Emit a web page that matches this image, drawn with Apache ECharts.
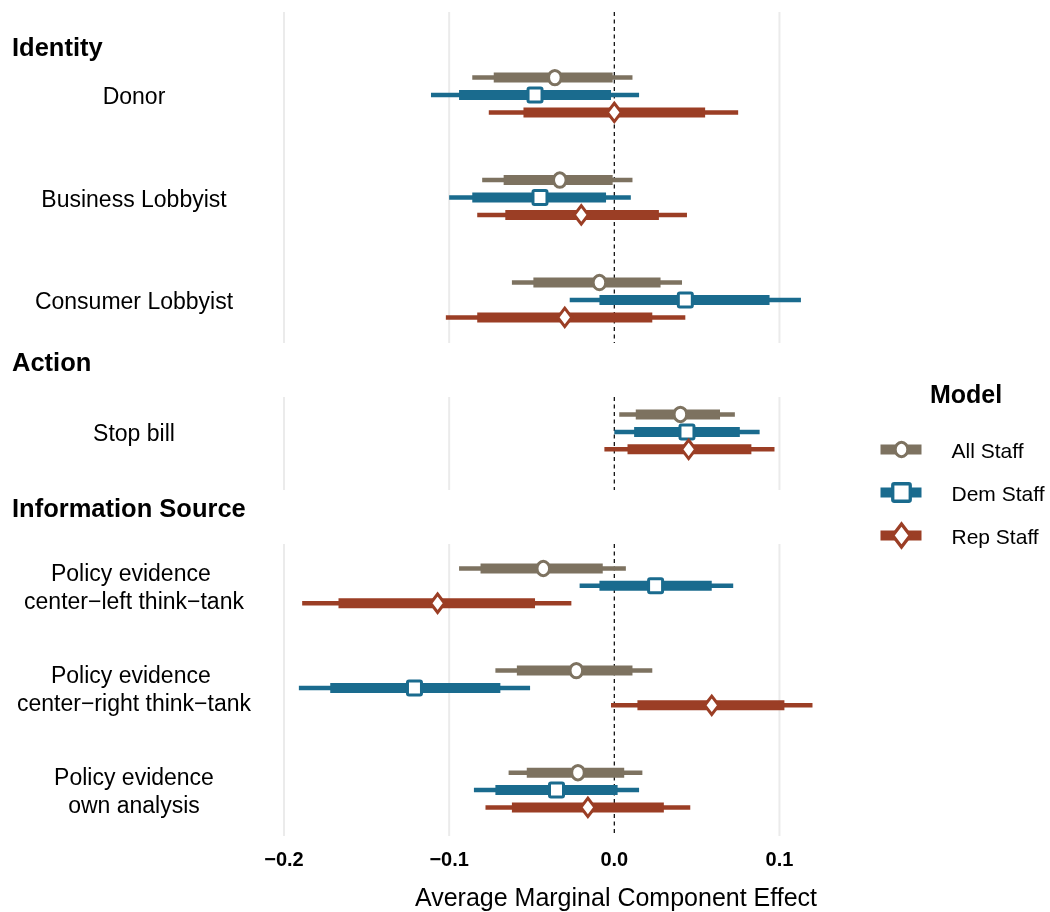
<!DOCTYPE html>
<html>
<head>
<meta charset="utf-8">
<script src="https://cdn.jsdelivr.net/npm/echarts@6/dist/echarts.min.js"></script>
<style>
  html, body { margin: 0; padding: 0; background: #ffffff; }
  #chart { width: 1050px; height: 912px; }
</style>
</head>
<body>
<div id="chart"></div>
<script>
// ---- Data -------------------------------------------------------------
const groupNames = ['Identity', 'Action', 'Information Source'];
const terms = [
  'Donor',
  'Business Lobbyist',
  'Consumer Lobbyist',
  'Stop bill',
  'Policy evidence \ncenter\u2212left think\u2212tank',
  'Policy evidence \ncenter\u2212right think\u2212tank',
  'Policy evidence\nown analysis'
];
const termGroup = [0, 0, 0, 1, 2, 2, 2];
const tickValues = [-0.2, -0.1, 0.0, 0.1];
const modelNames = ['All Staff', 'Dem Staff', 'Rep Staff'];

// All Staff: point estimate, 95% interval, 90% interval
const allEst  = [-0.036, -0.033, -0.009, 0.040, -0.043, -0.023, -0.022];
const allLo95 = [-0.086, -0.080, -0.062, 0.003, -0.094, -0.072, -0.064];
const allHi95 = [ 0.011,  0.011,  0.041, 0.073,  0.007,  0.023,  0.017];
const allLo90 = [-0.073, -0.067, -0.049, 0.013, -0.081, -0.059, -0.053];
const allHi90 = [-0.001, -0.001,  0.028, 0.064, -0.007,  0.011,  0.006];

// Dem Staff
const demEst  = [-0.048, -0.045,  0.043, 0.044,  0.025, -0.121, -0.035];
const demLo95 = [-0.111, -0.100, -0.027, 0.000, -0.021, -0.191, -0.085];
const demHi95 = [ 0.015,  0.010,  0.113, 0.088,  0.072, -0.051,  0.015];
const demLo90 = [-0.094, -0.086, -0.009, 0.012, -0.009, -0.172, -0.072];
const demHi90 = [-0.002, -0.005,  0.094, 0.076,  0.059, -0.069,  0.002];

// Rep Staff
const repEst  = [ 0.000, -0.020, -0.030,  0.045, -0.107,  0.059, -0.016];
const repLo95 = [-0.076, -0.083, -0.102, -0.006, -0.189, -0.002, -0.078];
const repHi95 = [ 0.075,  0.044,  0.043,  0.097, -0.026,  0.120,  0.046];
const repLo90 = [-0.055, -0.066, -0.083,  0.008, -0.167,  0.014, -0.062];
const repHi90 = [ 0.055,  0.027,  0.023,  0.083, -0.048,  0.103,  0.030];

// ---- Styling ------------------------------------------------------------
const FONT = '"Liberation Sans", Arial, Helvetica, sans-serif';
const modelColors = ['#7d7260', '#1a6b8e', '#9b3e25'];
const modelShapes = ['circle', 'square', 'diamond'];
const legendScale = { circle: 1.0, square: 1.25, diamond: 1.25 };
const modelStats = [
  [allEst, allLo95, allHi95, allLo90, allHi90],
  [demEst, demLo95, demHi95, demLo90, demHi90],
  [repEst, repLo95, repHi95, repLo90, repHi90]
];
const dodge = 0.17;               // vertical offset between models, in row units

// panel frames (pixels) and row ranges (row units)
const panels = [
  { top: 12,  height: 331, min: -0.81, max: 2.42 },
  { top: 397, height: 93,  min: -0.34, max: 0.566 },
  { top: 544, height: 292, min: -0.41, max: 2.45 }
];
const plotLeft = 284, plotWidth = 545;
const xMin = -0.2, xMax = 0.13;

function fmtTick(v) {
  const s = Math.abs(v).toFixed(1);
  return v < -1e-9 ? '\u2212' + s : s;
}

function marker(kind, cx, cy, color, scale) {
  const k = scale || 1;
  const base = { stroke: color, fill: '#ffffff', lineWidth: 3 * Math.min(k, 1.1) };
  if (kind === 'circle') {
    return { type: 'ellipse', shape: { cx: cx, cy: cy, rx: 6.3 * k, ry: 7.2 * k }, style: base };
  }
  if (kind === 'square') {
    const h = 7 * k;
    return { type: 'rect', shape: { x: cx - h, y: cy - h, width: 2 * h, height: 2 * h, r: 1.5 }, style: base };
  }
  const hw = 7 * k, hh = 9.2 * k;
  return {
    type: 'polygon',
    shape: { points: [[cx, cy - hh], [cx + hw, cy], [cx, cy + hh], [cx - hw, cy]] },
    style: Object.assign({ lineJoin: 'miter' }, base)
  };
}

function intervalRenderer(m) {
  const color = modelColors[m];
  const off = (m - 1) * dodge;
  return function (params, api) {
    const y = api.value(0) + off;
    const c = api.coord([api.value(1), y]);
    const a95 = api.coord([api.value(2), y]);
    const b95 = api.coord([api.value(3), y]);
    const a90 = api.coord([api.value(4), y]);
    const b90 = api.coord([api.value(5), y]);
    return {
      type: 'group',
      children: [
        { type: 'line', shape: { x1: a95[0], y1: a95[1], x2: b95[0], y2: b95[1] },
          style: { stroke: color, lineWidth: 4.5, lineCap: 'butt' } },
        { type: 'line', shape: { x1: a90[0], y1: a90[1], x2: b90[0], y2: b90[1] },
          style: { stroke: color, lineWidth: 10, lineCap: 'butt' } },
        marker(modelShapes[m], c[0], c[1], color, 1)
      ]
    };
  };
}

function refLineRenderer(params, api) {
  const v = api.value(0);
  const cs = params.coordSys;
  const x = api.coord([v, 0])[0];
  const isZero = Math.abs(v) < 1e-9;
  return {
    type: 'line',
    shape: { x1: x, y1: cs.y, x2: x, y2: cs.y + cs.height },
    style: isZero
      ? { stroke: '#000000', lineWidth: 1.2, lineDash: [4, 3.5] }
      : { stroke: '#ebebeb', lineWidth: 2 }
  };
}

// row labels, centred in the margin left of each panel
function rowLabelRenderer(labels) {
  return function (params, api) {
    const cs = params.coordSys;
    const y = api.coord([0, api.value(1)])[1];
    return {
      type: 'text', x: cs.x - 150, y: y + 3,
      style: { text: labels[params.dataIndex], font: '23px ' + FONT, lineHeight: 28,
               fill: '#000000', align: 'center', verticalAlign: 'middle' }
    };
  };
}

// ---- Build grids, axes and series -------------------------------------
const grids = [], xAxes = [], yAxes = [], series = [];

panels.forEach(function (p, g) {
  const idx = [];
  termGroup.forEach(function (tg, i) { if (tg === g) idx.push(i); });
  const rowLabels = idx.map(function (i) { return terms[i]; });
  const isLast = g === panels.length - 1;

  grids.push({ left: plotLeft, width: plotWidth, top: p.top, height: p.height });

  xAxes.push({
    type: 'value', gridIndex: g, min: xMin, max: xMax,
    axisLine: { show: false }, axisTick: { show: false }, splitLine: { show: false },
    axisLabel: {
      show: isLast,
      customValues: tickValues,
      formatter: fmtTick,
      fontFamily: FONT, fontSize: 20, fontWeight: 'bold', color: '#000000', margin: 14
    }
  });

  yAxes.push({
    type: 'value', gridIndex: g, inverse: true, min: p.min, max: p.max,
    axisLine: { show: false }, axisTick: { show: false }, splitLine: { show: false },
    axisLabel: { show: false }
  });

  series.push({
    type: 'custom', xAxisIndex: g, yAxisIndex: g, z: 1, silent: true,
    data: tickValues.map(function (v) { return [v, 0]; }),
    encode: { x: 0, y: 1 },
    renderItem: refLineRenderer
  });

  series.push({
    type: 'custom', xAxisIndex: g, yAxisIndex: g, z: 1, silent: true, clip: false,
    data: rowLabels.map(function (_, r) { return [0, r]; }),
    encode: { x: 0, y: 1 },
    renderItem: rowLabelRenderer(rowLabels)
  });

  modelStats.forEach(function (st, m) {
    series.push({
      type: 'custom', name: modelNames[m], xAxisIndex: g, yAxisIndex: g, z: 2 + m,
      data: idx.map(function (i, r) {
        return [r, st[0][i], st[1][i], st[2][i], st[3][i], st[4][i]];
      }),
      encode: { y: 0, x: [1, 2, 3, 4, 5] },
      renderItem: intervalRenderer(m)
    });
  });
});

// ---- Facet headings, axis title and legend -----------------------------
const headingY = [49, 364, 510];
const graphics = groupNames.map(function (name, g) {
  return {
    type: 'text', x: 12, y: headingY[g],
    style: { text: name, font: 'bold 25.5px ' + FONT, fill: '#000000', verticalAlign: 'middle', align: 'left' }
  };
});

graphics.push({
  type: 'text', x: 616, y: 899,
  style: { text: 'Average Marginal Component Effect', font: '25px ' + FONT, fill: '#000000',
           align: 'center', verticalAlign: 'middle' }
});

graphics.push({
  type: 'text', x: 930, y: 396,
  style: { text: 'Model', font: 'bold 25px ' + FONT, fill: '#000000', align: 'left', verticalAlign: 'middle' }
});

modelNames.forEach(function (name, m) {
  const cy = 449.5 + m * 43;
  const shape = modelShapes[m];
  graphics.push({
    type: 'group',
    children: [
      { type: 'rect', shape: { x: 880.5, y: cy - 5, width: 41, height: 10 }, style: { fill: modelColors[m] } },
      marker(shape, 901.5, cy, modelColors[m], legendScale[shape]),
      { type: 'text', x: 951.5, y: cy + 3,
        style: { text: name, font: '21px ' + FONT, fill: '#000000', align: 'left', verticalAlign: 'middle' } }
    ]
  });
});

const chart = echarts.init(document.getElementById('chart'), null, { renderer: 'canvas' });
chart.setOption({
  animation: false,
  backgroundColor: '#ffffff',
  grid: grids,
  xAxis: xAxes,
  yAxis: yAxes,
  series: series,
  graphic: graphics
});
</script>
</body>
</html>
